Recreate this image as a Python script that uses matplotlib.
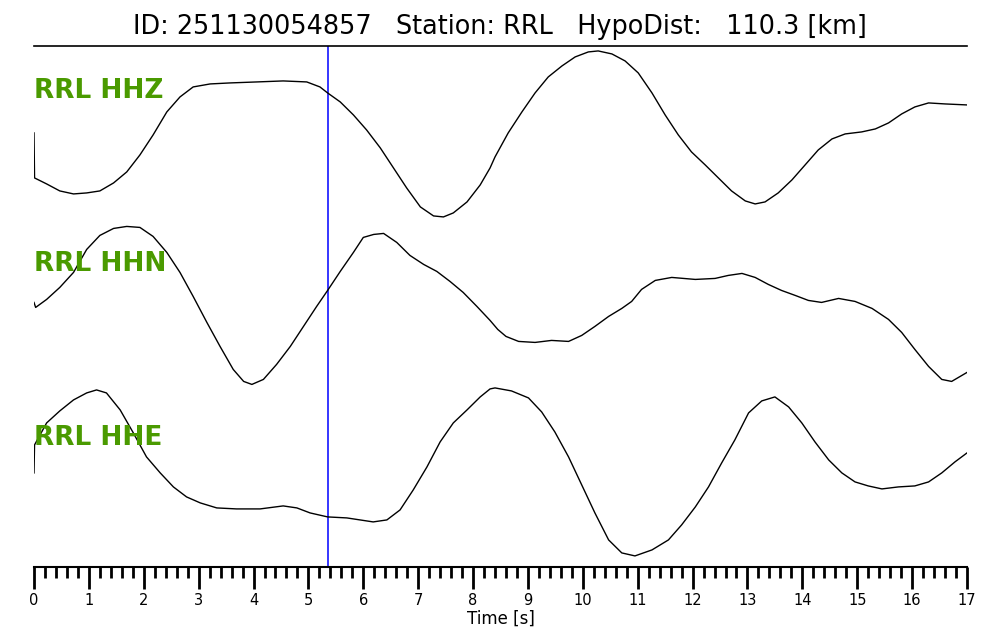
import matplotlib
matplotlib.use("Agg")
import matplotlib.pyplot as plt
import numpy as np
from matplotlib.ticker import MultipleLocator

# picked onset (s)
pick_time = 5.35

# trace samples (time in s, amplitude in counts)
hhz_t = [0.0, 0.01, 0.23, 0.47, 0.72, 0.96, 1.2, 1.45, 1.69, 1.93, 2.17, 2.42, 2.66, 2.9,
         3.21, 3.57, 4.06, 4.54, 4.97, 5.21, 5.35, 5.58, 5.82, 6.06, 6.31, 6.55, 6.79,
         7.04, 7.28, 7.46, 7.64, 7.89, 8.13, 8.31, 8.4, 8.64, 8.89, 9.13, 9.37, 9.62,
         9.86, 10.1, 10.28, 10.53, 10.77, 11.01, 11.26, 11.5, 11.74, 11.98, 12.23, 12.47,
         12.71, 12.96, 13.14, 13.32, 13.56, 13.81, 14.05, 14.29, 14.54, 14.78, 15.08,
         15.33, 15.57, 15.81, 16.05, 16.3, 16.6, 17.0]
hhz_a = [-42, -87, -93, -100, -103, -102, -100, -92, -81, -64, -44, -21, -6, 4,
         7, 8, 9, 10, 9, 4, -2, -11, -24, -39, -57, -77, -97,
         -116, -125, -126, -122, -111, -94, -77, -66, -42, -21, -2, 14, 25,
         34, 39, 40, 37, 30, 18, -2, -24, -44, -61, -74, -87,
         -100, -110, -113, -111, -102, -89, -74, -59, -48, -43, -41,
         -38, -32, -23, -16, -12, -13, -14]

hhn_t = [0.0, 0.03, 0.23, 0.47, 0.72, 0.96, 1.2, 1.45, 1.69, 1.93, 2.17, 2.42, 2.66, 2.9,
         3.15, 3.39, 3.63, 3.82, 3.97, 4.18, 4.42, 4.67, 4.91, 5.15, 5.35, 5.58, 5.82,
         6.0, 6.19, 6.37, 6.61, 6.85, 7.1, 7.34, 7.58, 7.82, 8.07, 8.31, 8.45, 8.6, 8.83,
         9.13, 9.43, 9.74, 9.98, 10.22, 10.47, 10.71, 10.89, 11.07, 11.32, 11.62, 12.05,
         12.41, 12.65, 12.9, 13.14, 13.38, 13.62, 13.87, 14.11, 14.35, 14.66, 14.96,
         15.27, 15.57, 15.81, 16.05, 16.3, 16.54, 16.72, 17.0]
hhn_a = [-38, -43, -35, -23, -8, 15, 29, 36, 38, 37, 28, 12, -8, -32,
         -58, -82, -105, -117, -120, -115, -100, -82, -62, -42, -26, -7, 12,
         27, 30, 31, 22, 9, 0, -7, -17, -28, -42, -56, -65, -72, -77,
         -78, -76, -77, -71, -62, -52, -44, -37, -25, -16, -13, -15,
         -14, -11, -9, -13, -20, -26, -31, -36, -38, -34, -37,
         -44, -55, -68, -85, -102, -115, -117, -108]

hhe_t = [0.0, 0.01, 0.23, 0.47, 0.72, 0.96, 1.14, 1.32, 1.57, 1.81, 2.05, 2.3, 2.54, 2.78,
         3.03, 3.33, 3.69, 4.12, 4.54, 4.79, 5.03, 5.35, 5.7, 5.94, 6.18, 6.43, 6.67,
         6.91, 7.16, 7.4, 7.64, 7.89, 8.13, 8.31, 8.4, 8.7, 9.01, 9.25, 9.49, 9.74,
         9.98, 10.22, 10.47, 10.71, 10.95, 11.26, 11.56, 11.8, 12.05, 12.29, 12.53,
         12.77, 13.02, 13.26, 13.5, 13.75, 13.99, 14.23, 14.48, 14.72, 14.96, 15.2,
         15.45, 15.75, 16.05, 16.3, 16.54, 16.78, 17.0]
hhe_a = [-35, -7, 15, 27, 38, 45, 48, 45, 28, 5, -19, -35, -49, -59,
         -65, -70, -71, -71, -68, -70, -75, -79, -80, -82, -84, -82, -72,
         -52, -29, -4, 15, 28, 41, 49, 50, 47, 40, 26, 6, -19,
         -47, -75, -102, -115, -118, -112, -102, -87, -69, -49, -25,
         -2, 25, 37, 41, 31, 15, -4, -22, -35, -44, -48,
         -51, -49, -48, -44, -35, -24, -15]

channels = ["RRL HHZ", "RRL HHN", "RRL HHE"]
traces = [(hhz_t, hhz_a), (hhn_t, hhn_a), (hhe_t, hhe_a)]

title = "ID: 251130054857   Station: RRL   HypoDist:   110.3 [km]"

gain = 173.5  # counts per trace spacing
green = "#4a9a00"

fig = plt.figure(figsize=(10, 6.4), dpi=100)
ax = fig.add_axes([0.034, 1 - 567 / 640, 0.933, 521 / 640])

n = len(traces)
for i, (t, a) in enumerate(traces):
    offset = n - 1 - i
    ax.plot(t, offset + np.array(a) / gain, color="black", lw=1.0, zorder=2)
    ax.text(0.0, offset, channels[i], color=green, fontsize=19, fontweight="bold",
            ha="left", va="center", zorder=3)

ax.axvline(pick_time, color="blue", lw=1.1, zorder=1)

ax.set_xlim(0, 17)
ax.set_ylim(-0.744, 2.259)
ax.xaxis.set_major_locator(MultipleLocator(1))
ax.xaxis.set_minor_locator(MultipleLocator(0.2))
ax.tick_params(axis="x", which="major", length=16, width=2, labelsize=10.5, pad=3)
ax.tick_params(axis="x", which="minor", length=8, width=2)
ax.set_yticks([])
ax.spines["left"].set_visible(False)
ax.spines["right"].set_visible(False)
ax.spines["top"].set_linewidth(1.2)
ax.spines["bottom"].set_linewidth(1.5)
ax.set_xlabel("Time [s]", fontsize=12, labelpad=1)

fig.text(0.5, 1 - 27 / 640, title, ha="center", va="center", fontsize=18.4)

plt.savefig("out.png", dpi=100)
